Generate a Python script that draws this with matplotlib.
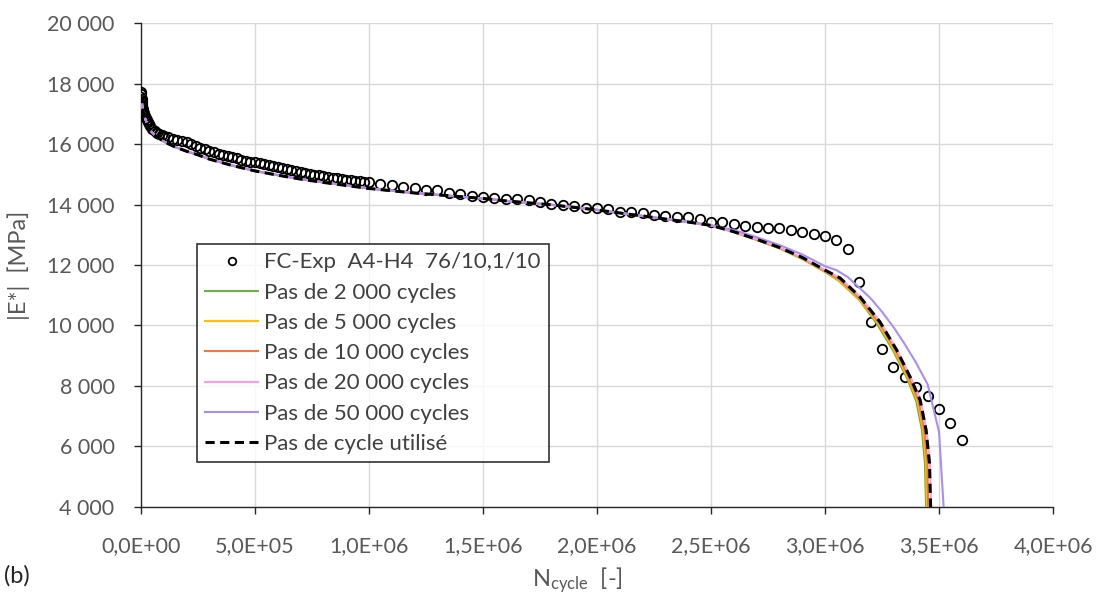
import numpy as np
import matplotlib
matplotlib.use("Agg")
import matplotlib.pyplot as plt
from matplotlib.ticker import FuncFormatter, MultipleLocator

plt.rcParams['font.family'] = ['Lato', 'DejaVu Sans']
plt.rcParams['mathtext.default'] = 'regular'

# experimental points (N in kcycles, |E*| in MPa)
n_exp_k = ([0, 1, 2, 3, 4, 5, 6, 8, 10, 12, 15, 18, 21, 25, 30, 35, 40, 50, 60, 70, 80, 90, 100,
            120, 140, 160, 180, 200, 220, 240, 260, 280, 300, 320, 340, 360, 380, 400, 420, 440,
            460, 480, 500, 520, 540, 560, 580, 600, 620, 640, 660, 680, 700, 720, 740, 760, 780,
            800, 820, 840, 860, 880, 900, 920, 940, 960, 980, 1000,
            1050, 1100, 1150, 1200, 1250, 1300, 1350, 1400, 1450, 1500, 1550, 1600, 1650, 1700,
            1750, 1800, 1850, 1900, 1950, 2000, 2050, 2100, 2150, 2200, 2250, 2300, 2350, 2400,
            2450, 2500, 2550, 2600, 2650, 2700, 2750, 2800, 2850, 2900, 2950, 3000, 3050, 3100,
            3150, 3200, 3250, 3300, 3350, 3400, 3450, 3500, 3550, 3600])
e_exp = ([17720, 17650, 17560, 17480, 17400, 17330, 17260, 17170, 17100, 17040, 16980, 16920,
          16870, 16800, 16720, 16650, 16590, 16500, 16430, 16380, 16340, 16300, 16270,
          16220, 16180, 16140, 16100, 16060, 16000, 15950, 15880, 15820, 15760, 15720, 15680,
          15640, 15600, 15560, 15530, 15480, 15450, 15420, 15390, 15370, 15340, 15300, 15270,
          15240, 15210, 15180, 15150, 15120, 15080, 15050, 15020, 14990, 14960, 14930, 14910,
          14880, 14860, 14840, 14820, 14800, 14790, 14770, 14760, 14740,
          14677, 14630, 14567, 14534, 14479, 14479, 14390, 14335, 14291, 14236, 14203, 14181,
          14170, 14148, 14093, 14005, 13972, 13961, 13895, 13895, 13840, 13762, 13751, 13707,
          13652, 13619, 13597, 13575, 13509, 13432, 13410, 13355, 13288, 13266, 13233, 13211,
          13156, 13101, 13024, 12958, 12826, 12528,
          11450, 10125, 9210, 8640, 8290, 7980, 7670, 7250, 6785, 6215])

# common part of the simulated curves (N in Mcycles)
n_head = [0, 0.005, 0.01, 0.02, 0.04, 0.06, 0.1, 0.15, 0.2, 0.25, 0.3, 0.4, 0.5, 0.6, 0.7,
          0.8, 1.0, 1.2, 1.4, 1.5, 1.6, 1.8, 2.0, 2.2, 2.4, 2.5]
e_head = [17650, 17300, 17050, 16800, 16450, 16300, 16080, 15900, 15760, 15640, 15500, 15290,
          15110, 14970, 14840, 14730, 14530, 14380, 14260, 14200, 14120, 13990, 13820, 13620,
          13420, 13310]

# end of each curve
n_2000 = [2.6, 2.7, 2.8, 2.9, 3.0, 3.06, 3.15, 3.23, 3.30, 3.36, 3.40, 3.425, 3.438, 3.443, 3.446]
e_2000 = [13090, 12830, 12550, 12200, 11770, 11480, 10850, 10030, 9150, 8250, 7500, 6550, 5450, 4000, 3000]
n_5000 = [2.6, 2.7, 2.8, 2.9, 3.0, 3.06, 3.15, 3.235, 3.305, 3.364, 3.405, 3.43, 3.443, 3.447, 3.450]
e_5000 = [13090, 12835, 12560, 12210, 11785, 11500, 10870, 10050, 9160, 8260, 7510, 6550, 5450, 4000, 3000]
n_10000 = [2.6, 2.7, 2.8, 2.9, 3.0, 3.063, 3.152, 3.238, 3.31, 3.368, 3.41, 3.435, 3.449, 3.452, 3.455]
e_10000 = [13095, 12840, 12570, 12230, 11805, 11530, 10900, 10080, 9175, 8280, 7520, 6550, 5450, 4000, 3000]
n_20000 = [2.6, 2.7, 2.8, 2.9, 3.0, 3.066, 3.155, 3.243, 3.316, 3.375, 3.419, 3.445, 3.460, 3.465, 3.468]
e_20000 = [13100, 12850, 12580, 12250, 11830, 11570, 10940, 10115, 9190, 8300, 7535, 6545, 5450, 4000, 3000]
n_50000 = [2.6, 2.7, 2.8, 2.9, 3.0, 3.05, 3.1, 3.15, 3.2, 3.25, 3.3, 3.35, 3.4, 3.45, 3.5, 3.55]
e_50000 = [13160, 12920, 12660, 12350, 11960, 11830, 11600, 11250, 10900, 10450, 9950, 9380, 8760, 8050, 6480, 300]
n_used = [2.6, 2.7, 2.8, 2.9, 3.0, 3.066, 3.154, 3.241, 3.314, 3.373, 3.417, 3.443, 3.458, 3.463, 3.466]
e_used = [13100, 12850, 12580, 12250, 11830, 11570, 10940, 10115, 9190, 8300, 7535, 6545, 5450, 4000, 3000]

curves = [
    ("Pas de 2 000 cycles", n_2000, e_2000, "#70AD47"),
    ("Pas de 5 000 cycles", n_5000, e_5000, "#FFC000"),
    ("Pas de 10 000 cycles", n_10000, e_10000, "#ED7D31"),
    ("Pas de 20 000 cycles", n_20000, e_20000, "#FF9BE0"),
    ("Pas de 50 000 cycles", n_50000, e_50000, "#A98EF5"),
]

fig = plt.figure(figsize=(10.99, 5.98), dpi=100)
ax = fig.add_axes([0.1283, 0.1522, 0.8299, 0.8093])

ax.plot(np.array(n_exp_k) * 1e3, e_exp, 'o', ms=6.8, mfc='none', mec='black', mew=1.3,
        label="FC-Exp  A4-H4  76/10,1/10", zorder=3)
for lab, n, e, c in curves:
    ax.plot(np.array(n_head + n) * 1e6, e_head + e, color=c, lw=1.5, label=lab, zorder=4)
ax.plot(np.array(n_head + n_used) * 1e6, e_head + e_used, color='black', lw=2.2,
        dashes=(3, 1.8), label="Pas de cycle utilisé", zorder=5)

ax.set_xlim(0, 4e6)
ax.set_ylim(4000, 20000)
ax.xaxis.set_major_locator(MultipleLocator(5e5))
ax.yaxis.set_major_locator(MultipleLocator(2000))
ax.xaxis.set_major_formatter(FuncFormatter(lambda v, p: f"{v:.1E}".replace('.', ',')))
ax.yaxis.set_major_formatter(FuncFormatter(lambda v, p: f"{int(v):,}".replace(',', ' ')))

ax.grid(True, color='#D9D9D9', lw=1.0)
ax.set_axisbelow(True)
for s in ['top', 'right']:
    ax.spines[s].set_visible(False)
for s in ['left', 'bottom']:
    ax.spines[s].set_color('#262626')
    ax.spines[s].set_linewidth(1.0)
ax.tick_params(axis='y', direction='out', length=5, width=1, color='#262626',
               labelsize=15.5, labelcolor='#595959', pad=14)
ax.tick_params(axis='x', direction='out', length=5, width=1, color='#262626',
               labelsize=15.5, labelcolor='#595959', pad=16)

ax.set_ylabel("|E*|  [MPa]", fontsize=17, color='#595959')
ax.yaxis.set_label_coords(-0.122, 0.5)
ax.set_xlabel("N$_{cycle}$  [-]", fontsize=17, color='#595959')
ax.xaxis.set_label_coords(0.479, -0.12)
fig.text(0.004, 0.025, "(b)", fontsize=17, color='#262626')

leg = ax.legend(loc='upper left', bbox_to_anchor=(0.0614, 0.5434), borderaxespad=0,
                fontsize=16, frameon=True, fancybox=False, edgecolor='black',
                handlelength=2.35, handletextpad=0.3, labelspacing=0.46, borderpad=0.38,
                markerscale=0.8)
leg.get_frame().set_linewidth(1.2)
for t in leg.get_texts():
    t.set_color('#404040')

fig.savefig("out.png", dpi=100)
